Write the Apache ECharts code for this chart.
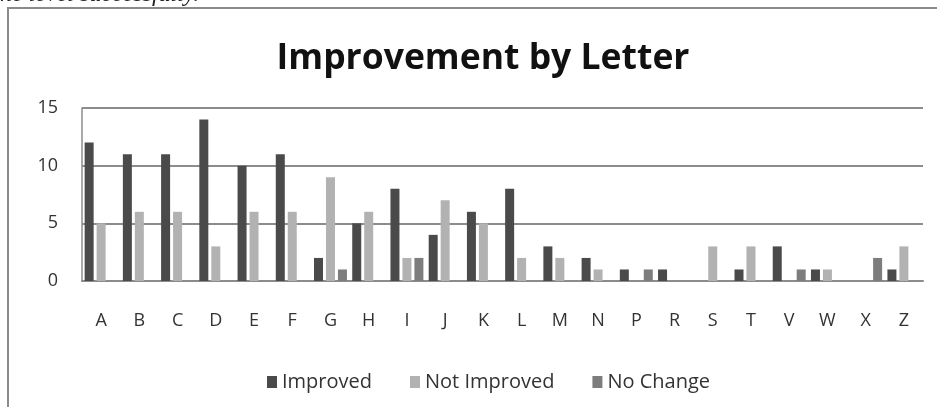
<!DOCTYPE html>
<html>
<head>
<meta charset="utf-8">
<style>
html,body{margin:0;padding:0;background:#fff;}
#chart{width:937px;height:407px;}
</style>
<script src="https://cdn.jsdelivr.net/npm/echarts@6/dist/echarts.min.js"></script>
</head>
<body>
<div id="chart"></div>
<script>
var categories = ['A','B','C','D','E','F','G','H','I','J','K','L','M','N','P','R','S','T','V','W','X','Z'];
var improved    = [12,11,11,14,10,11,2,5,8,4,6,8,3,2,1,1,0,1,3,1,0,1];
var notImproved = [5,6,6,3,6,6,9,6,2,7,5,2,2,1,0,0,3,3,0,1,0,3];
var noChange    = [0,0,0,0,0,0,1,0,2,0,0,0,0,0,1,0,0,0,1,0,2,0];
var seriesNames = ['Improved','Not Improved','No Change'];
var yTicks = [0,5,10,15];

var font = '"Open Sans", "Liberation Sans", sans-serif';
var chart = echarts.init(document.getElementById('chart'));
chart.setOption({
  backgroundColor: '#ffffff',
  animation: false,
  title: {
    text: 'Improvement by Letter',
    left: 478,
    textAlign: 'center',
    top: 36,
    textStyle: { fontFamily: font, fontWeight: 'bold', fontSize: 35.5, color: '#111' }
  },
  graphic: [
    { type: 'rect', shape: { x: 8, y: 8, width: 940, height: 420 },
      style: { fill: 'none', stroke: '#8a8a8a', lineWidth: 2 }, silent: true },
    { type: 'text', style: { text: 'he level successfully.', x: 0, y: -5,
      font: 'italic 24px "Liberation Serif", serif', fill: '#222', verticalAlign: 'middle' } }
  ],
  legend: {
    data: seriesNames,
    left: 262,
    top: 367,
    itemWidth: 10,
    itemHeight: 12,
    itemGap: 38,
    icon: 'rect',
    textStyle: { fontFamily: font, fontSize: 20, color: '#333', padding: [0,0,0,0] }
  },
  grid: { left: 82, right: 14, top: 108, bottom: 126, containLabel: false },
  xAxis: {
    type: 'category',
    data: categories,
    axisLine: { lineStyle: { color: '#8c8c8c', width: 2 } },
    axisTick: { show: false },
    axisLabel: { margin: 31, fontFamily: font, fontSize: 18, color: '#333' }
  },
  yAxis: {
    type: 'value',
    min: 0, max: 15, interval: 5,
    axisLine: { show: true, lineStyle: { color: '#8c8c8c', width: 1.5 } },
    axisTick: { show: false },
    axisLabel: { margin: 24, fontFamily: font, fontSize: 18, color: '#333',
      formatter: function (v) { return yTicks.indexOf(v) >= 0 ? String(v) : ''; } },
    splitLine: { lineStyle: { color: '#8c8c8c', width: 2 } }
  },
  series: [
    { name: seriesNames[0], type: 'bar', data: improved, barWidth: 9, barGap: '33%',
      itemStyle: { color: '#4a4a4a' } },
    { name: seriesNames[1], type: 'bar', data: notImproved, barWidth: 9, barGap: '33%',
      itemStyle: { color: '#b2b2b2' } },
    { name: seriesNames[2], type: 'bar', data: noChange, barWidth: 9, barGap: '33%',
      itemStyle: { color: '#7d7d7d' } }
  ]
});
</script>
</body>
</html>
